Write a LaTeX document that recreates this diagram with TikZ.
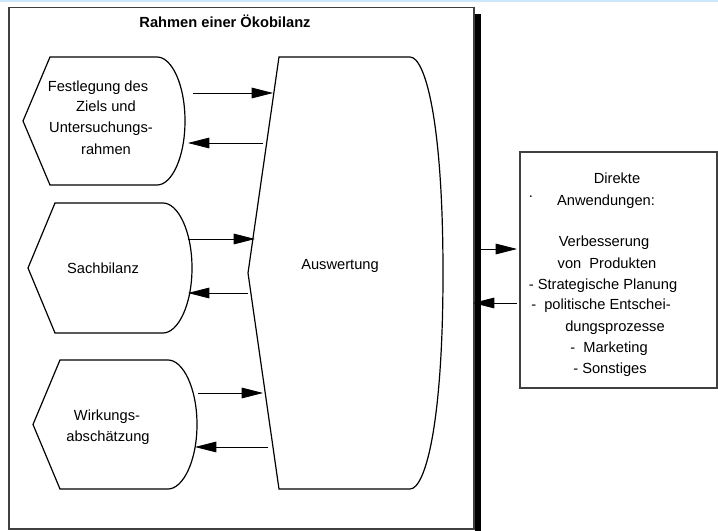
\documentclass[tikz,border=0pt]{standalone}
\usepackage{fontspec}
\setmainfont{Liberation Sans}
\usetikzlibrary{arrows.meta}
\definecolor{bandblau}{RGB}{204,230,252}
\definecolor{rahmengrau}{RGB}{64,64,64}

\begin{document}
\begin{tikzpicture}[x=0.75pt,y=-0.75pt,>={Triangle[length=16pt,width=8pt]},
        every node/.style={font=\fontsize{11pt}{13pt}\selectfont,inner sep=0pt,anchor=base}]
        \useasboundingbox (0,0) rectangle (718,531);
        \clip (0,0) rectangle (718,531);
        \fill[bandblau] (0,0) rectangle (718,2);

        % Rahmen mit Schatten
        \fill[black] (475,14) rectangle (481,540);
        \draw[rahmengrau,fill=white,line width=0.8pt] (9,7.5) rectangle (474,529);
        \node[font=\bfseries\fontsize{11pt}{13pt}\selectfont] (titel) at (225,28) {Rahmen einer Ökobilanz};

        % Phasen als Anzeige-Symbole: Spitze, links, rechts, Bauch, oben, unten, Kruemmung
        \foreach \p/\l/\r/\b/\t/\u/\k in {23/50/157/185/57/185/28, 28/55/163/192/203/333/28, 33/60/168/197/360/489/28, 248/279/410/443/57/489/63}
            {
                \draw[line width=0.9pt] (\l,\t) -- (\r,\t)
                    .. controls (\r+15,\t) and (\b,\t+\k) .. (\b,{(\t+\u)/2})
                    .. controls (\b,\u-\k) and (\r+15,\u) .. (\r,\u)
                    -- (\l,\u) -- (\p,{(\t+\u)/2}) -- cycle;
            }

        \node (fest1) at (98,92) {Festlegung des};
        \node (fest2) at (106,112) {Ziels und};
        \node (fest3) at (101,133) {Untersuchungs-};
        \node (fest4) at (106,155) {rahmen};
        \node (sach) at (103,273) {Sachbilanz};
        \node (wirk1) at (107,420) {Wirkungs-};
        \node (wirk2) at (108,441) {abschätzung};
        \node (ausw) at (340,269) {Auswertung};

        % Anwendungen
        \draw[rahmengrau,line width=0.8pt] (520,152) rectangle (717,388);
        \foreach \x/\y/\t [count=\i] in {617/184/Direkte, 606/206/Anwendungen:, 604/247/Verbesserung, 607/268/von~~Produkten, 603/289/- Strategische Planung, 601/310/-~~politische Entschei-, 615/331/dungsprozesse, 609/352/-~~Marketing, 610/373/- Sonstiges}
            {
                \node (anw\i) at (\x,\y) {\t};
            }
        \node (punkt) at (531,198) {.};

        % Pfeile
        \foreach \n/\xa/\xb/\y in {1/193/273/93, 2/263/188/143, 3/188/255/239, 4/248/188/293, 5/198/263/393, 6/268/195/447, 7/481/517/249, 8/517/473/303}
            {
                \coordinate (von\n) at (\xa,\y);
                \coordinate (nach\n) at (\xb,\y);
                \draw[->,line width=0.6pt] (von\n) -- (nach\n);
            }
    \end{tikzpicture}
\end{document}
